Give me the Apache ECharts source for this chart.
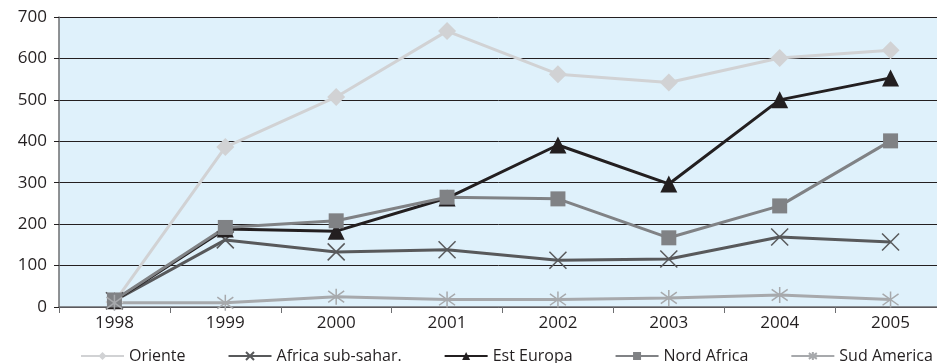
<!DOCTYPE html>
<html>
<head>
<meta charset="utf-8">
<script src="https://cdn.jsdelivr.net/npm/echarts@6/dist/echarts.min.js"></script>
<style>
  html, body { margin: 0; padding: 0; background: #fff; }
  #chart { width: 937px; height: 363px; }
</style>
</head>
<body>
<div id="chart"></div>
<script>
var years = ['1998', '1999', '2000', '2001', '2002', '2003', '2004', '2005'];
var oriente = [12, 386, 507, 666, 562, 542, 601, 620];
var africaSub = [15, 162, 133, 138, 113, 116, 169, 157];
var estEuropa = [15, 188, 183, 263, 391, 297, 500, 553];
var nordAfrica = [17, 192, 208, 265, 261, 167, 244, 401];
var sudAmerica = [10, 10, 25, 18, 18, 22, 29, 18];

var xMark = 'path://M0,0L10,10M10,0L0,10';
var starMark = 'path://M0,0L10,10M10,0L0,10M5,-2L5,12';

function line(name, data, color, symbol, size, stroked) {
  var s = {
    name: name,
    type: 'line',
    data: data,
    symbol: symbol,
    symbolSize: size,
    lineStyle: { color: color, width: 3 },
    itemStyle: { color: color },
    z: 3
  };
  if (stroked) {
    s.itemStyle = { color: 'rgba(0,0,0,0)', borderColor: color, borderWidth: 1.5 };
  }
  return s;
}

var chart = echarts.init(document.getElementById('chart'));
chart.setOption({
  animation: false,
  textStyle: { fontFamily: 'Open Sans', color: '#231f20' },
  grid: {
    left: 59, top: 17, bottom: 56, right: -9,
    outerBoundsMode: 'none',
    show: true, backgroundColor: '#dff1fb', borderWidth: 0
  },
  legend: {
    bottom: -1,
    left: 80,
    width: 900,
    padding: 0,
    itemWidth: 43,
    itemHeight: 10,
    itemGap: 42,
    textStyle: { fontSize: 16, color: '#231f20', fontFamily: 'Open Sans' },
    data: ['Oriente', 'Africa sub-sahar.', 'Est Europa', 'Nord Africa', 'Sud America']
  },
  xAxis: {
    type: 'category',
    data: years,
    boundaryGap: true,
    axisLine: { lineStyle: { color: '#6d6e71', width: 1.5 } },
    axisTick: { show: true, length: 6, lineStyle: { color: '#6d6e71' } },
    axisLabel: { fontSize: 17, color: '#231f20', margin: 8 }
  },
  yAxis: {
    type: 'value',
    min: 0, max: 700, interval: 100,
    axisLine: { show: true, lineStyle: { color: '#6d6e71', width: 1.5 } },
    axisTick: { show: true, length: 5, lineStyle: { color: '#231f20' } },
    axisLabel: { fontSize: 17, color: '#231f20', margin: 12 },
    splitLine: { lineStyle: { color: '#231f20', width: 1 } }
  },
  series: [
    line('Oriente', oriente, '#d1d2d4', 'diamond', 18, false),
    line('Africa sub-sahar.', africaSub, '#58595b', xMark, 17, true),
    line('Est Europa', estEuropa, '#231f20', 'triangle', 17, false),
    line('Nord Africa', nordAfrica, '#808285', 'rect', 15, false),
    line('Sud America', sudAmerica, '#a7a9ac', starMark, 16, true)
  ]
});
</script>
</body>
</html>
